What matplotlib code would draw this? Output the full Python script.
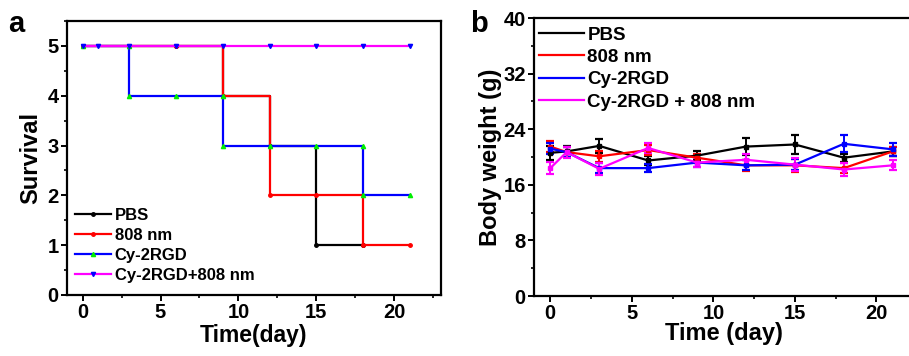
import matplotlib
matplotlib.use("Agg")
import matplotlib.pyplot as plt
from matplotlib.ticker import MultipleLocator
from matplotlib.lines import Line2D

plt.rcParams['font.family'] = ['Liberation Sans', 'DejaVu Sans']
plt.rcParams['font.weight'] = 'bold'

# ---------- Panel a: survival ----------
pbs_days = [0, 3, 6, 9, 12, 15, 18]
pbs_surv = [5, 5, 5, 4, 3, 1, 1]
nm_days = [0, 3, 6, 9, 12, 15, 18, 21]
nm_surv = [5, 5, 5, 4, 2, 2, 1, 1]
cy_days = [0, 3, 3, 6, 9, 9, 12, 15, 18, 18, 21]
cy_surv = [5, 5, 4, 4, 4, 3, 3, 3, 3, 2, 2]
cynm_days = [0, 1, 3, 6, 9, 12, 15, 18, 21]
cynm_surv = [5, 5, 5, 5, 5, 5, 5, 5, 5]

# ---------- Panel b: body weight ----------
bw_days = [0, 1, 3, 6, 9, 12, 15, 18, 21]
pbs_bw = [20.6, 20.8, 21.6, 19.5, 20.2, 21.5, 21.8, 19.9, 20.8]
pbs_err = [1.0, 0.8, 1.0, 0.6, 0.7, 1.2, 1.3, 0.6, 0.6]
nm_bw = [21.5, 20.7, 20.1, 21.0, 19.9, 18.8, 18.8, 18.4, 20.8]
nm_err = [0.8, 0.7, 0.8, 0.7, 0.6, 0.8, 0.9, 0.7, 0.7]
cy_bw = [21.2, 20.7, 18.4, 18.4, 19.2, 18.8, 18.9, 21.9, 21.1]
cy_err = [0.8, 0.7, 0.7, 0.6, 0.6, 0.7, 0.8, 1.2, 0.9]
cynm_bw = [18.4, 20.7, 18.3, 21.3, 19.2, 19.6, 18.9, 18.2, 18.8]
cynm_err = [0.9, 0.8, 0.9, 0.7, 0.6, 0.8, 0.9, 0.9, 0.7]

labels_a = ['PBS', '808 nm', 'Cy-2RGD', 'Cy-2RGD+808 nm']
labels_b = ['PBS', '808 nm', 'Cy-2RGD', 'Cy-2RGD + 808 nm']

fig = plt.figure(figsize=(9.09, 3.56), dpi=100)

axa = fig.add_axes([67/909, 1-295/356, (441-67)/909, (295-21)/356])
axa.step(pbs_days, pbs_surv, where='post', color='black', lw=1.6,
         marker='o', ms=2.5, mfc='black', mec='black', label=labels_a[0])
axa.step(nm_days, nm_surv, where='post', color='#ff0000', lw=1.6,
         marker='o', ms=2.5, mfc='#ff0000', mec='#ff0000', label=labels_a[1])
axa.step(cy_days, cy_surv, where='post', color='#0000ff', lw=1.6,
         marker='^', ms=3, mfc='#00ee00', mec='#00ee00', label=labels_a[2])
axa.step(cynm_days, cynm_surv, where='post', color='#ff00ff', lw=1.6,
         marker='v', ms=3, mfc='#0000ff', mec='#0000ff', label=labels_a[3])
axa.set_xlim(-1, 23)
axa.set_ylim(0, 5.5)
axa.xaxis.set_major_locator(MultipleLocator(5))
axa.xaxis.set_minor_locator(MultipleLocator(2.5))
axa.yaxis.set_major_locator(MultipleLocator(1))
axa.yaxis.set_minor_locator(MultipleLocator(0.5))
axa.set_xlabel('Time(day)', fontsize=16.5, fontweight='bold', labelpad=1)
axa.set_ylabel('Survival', fontsize=17, fontweight='bold', labelpad=4)
axa.legend(loc='lower left', frameon=False, handlelength=2.2,
           handletextpad=0.2, labelspacing=0.3, bbox_to_anchor=(-0.02, -0.01),
           prop={'weight': 'bold', 'size': 12})
fig.text(8/909, 1-32/356, 'a', fontsize=21, fontweight='bold')

axb = fig.add_axes([534/909, 1-296/356, (914-534)/909, (296-18)/356])
series = [(pbs_bw, pbs_err, 'black'), (nm_bw, nm_err, '#ff0000'),
          (cy_bw, cy_err, '#0000ff'), (cynm_bw, cynm_err, '#ff00ff')]
for (vals, errs, col), lab in zip(series, labels_b):
    axb.errorbar(bw_days, vals, yerr=errs, color=col, lw=1.6, elinewidth=1.4,
                 capsize=3, capthick=1.6, marker='s', ms=2.5, label=lab)
axb.set_xlim(-1, 22.3)
axb.set_ylim(0, 40)
axb.xaxis.set_major_locator(MultipleLocator(5))
axb.xaxis.set_minor_locator(MultipleLocator(2.5))
axb.yaxis.set_major_locator(MultipleLocator(8))
axb.yaxis.set_minor_locator(MultipleLocator(4))
axb.set_xlabel('Time (day)', fontsize=17, fontweight='bold', labelpad=-1)
axb.set_ylabel('Body weight (g)', fontsize=17, fontweight='bold', labelpad=1)
hl = [Line2D([], [], color=c, lw=1.6) for _, _, c in series]
axb.legend(hl, labels_b, loc='upper left', frameon=False, handlelength=2.4,
           handletextpad=0.15, labelspacing=0.28, bbox_to_anchor=(-0.03, 1.03),
           prop={'weight': 'bold', 'size': 13.5})
fig.text(470/909, 1-32/356, 'b', fontsize=21, fontweight='bold')

for ax in (axa, axb):
    for s in ax.spines.values():
        s.set_linewidth(1.6)
    ax.tick_params(which='major', direction='out', length=4, width=1.4,
                   labelsize=14.5, pad=2)
    ax.tick_params(which='minor', direction='out', length=2.5, width=1.2)
    for t in ax.get_xticklabels() + ax.get_yticklabels():
        t.set_fontweight('bold')

fig.savefig('out.png', dpi=100)
